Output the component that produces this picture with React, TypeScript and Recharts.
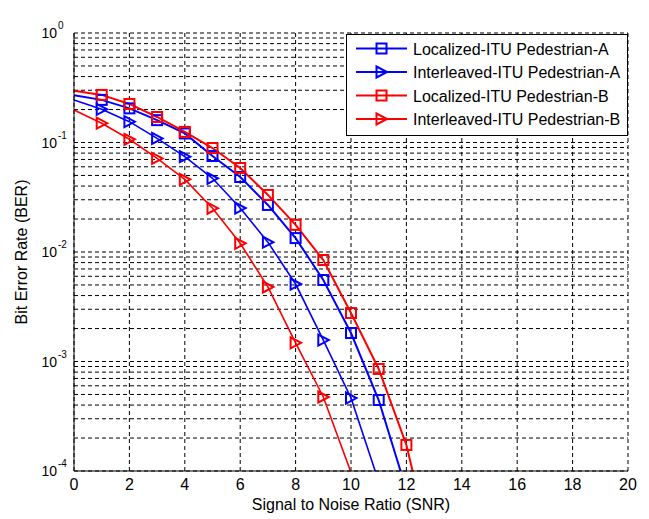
import React from 'react';
import { LineChart, Line, XAxis, YAxis, CartesianGrid, Legend } from 'recharts';

// ---- data ----
const snr = [0, 1, 2, 3, 4, 5, 6, 7, 8, 9, 10, 11, 12, 13];
const localizedA = [0.27, 0.245, 0.205, 0.16, 0.121, 0.0753, 0.0484, 0.0269, 0.0134, 0.00555, 0.00182, 0.000445, 0.000067, null];
const interleavedA = [0.245, 0.201, 0.155, 0.109, 0.0742, 0.0471, 0.0252, 0.0123, 0.0051, 0.00157, 0.000464, 0.00008, null, null];
const localizedB = [0.297, 0.272, 0.225, 0.171, 0.125, 0.089, 0.0585, 0.0332, 0.0177, 0.00845, 0.00277, 0.000855, 0.000173, 0.000015];
const interleavedB = [0.198, 0.15, 0.107, 0.0716, 0.0461, 0.0251, 0.012, 0.00479, 0.00148, 0.000474, 0.000097, null, null, null];

const xTicks = [0, 2, 4, 6, 8, 10, 12, 14, 16, 18, 20];
const yTicks = [
  0.0001, 0.0002, 0.0003, 0.0004, 0.0005, 0.0006, 0.0007, 0.0008, 0.0009,
  0.001, 0.002, 0.003, 0.004, 0.005, 0.006, 0.007, 0.008, 0.009,
  0.01, 0.02, 0.03, 0.04, 0.05, 0.06, 0.07, 0.08, 0.09,
  0.1, 0.2, 0.3, 0.4, 0.5, 0.6, 0.7, 0.8, 0.9,
  1,
];
const yDecadeLabels: Record<string, string> = { '0.0001': '-4', '0.001': '-3', '0.01': '-2', '0.1': '-1', '1': '0' };

const seriesKeys = ['locA', 'intA', 'locB', 'intB'];
const seriesNames = [
  'Localized-ITU Pedestrian-A',
  'Interleaved-ITU Pedestrian-A',
  'Localized-ITU Pedestrian-B',
  'Interleaved-ITU Pedestrian-B',
];
const seriesColors = ['#0000ff', '#0000ff', '#ff0000', '#ff0000'];
const seriesMarkers = ['square', 'triangle', 'square', 'triangle'];
const seriesWidths = [2, 1.6, 2, 1.6];

const data = snr.map((s, i) => ({
  snr: s,
  locA: localizedA[i],
  intA: interleavedA[i],
  locB: localizedB[i],
  intB: interleavedB[i],
}));

const FONT = '"Liberation Sans", Arial, Helvetica, sans-serif';

function Marker({ type, cx, cy, color }: { type: string; cx: number; cy: number; color: string }) {
  if (type === 'square') {
    return <rect x={cx - 5} y={cy - 5} width={10} height={10} fill="none" stroke={color} strokeWidth={2} />;
  }
  return (
    <polygon
      points={`${cx - 5},${cy - 5.5} ${cx - 5},${cy + 5.5} ${cx + 5.5},${cy}`}
      fill="none"
      stroke={color}
      strokeWidth={2}
    />
  );
}

const makeDot = (key: string, type: string, color: string) => (props: any) => {
  const { cx, cy, payload, index } = props;
  const v = payload ? payload[key] : null;
  if (cx == null || cy == null || v == null || payload.snr === 0 || v < 0.0001) {
    return <g key={`d-${key}-${index}`} />;
  }
  return (
    <g key={`d-${key}-${index}`}>
      <Marker type={type} cx={cx} cy={cy} color={color} />
    </g>
  );
};

const XTick = (props: any) => {
  const { x, payload } = props;
  return (
    <text x={x} y={490} textAnchor="middle" fontSize={16} fontFamily={FONT} fill="#000">
      {payload.value}
    </text>
  );
};

const YTick = (props: any) => {
  const { y, payload } = props;
  const exp = yDecadeLabels[String(payload.value)];
  if (exp === undefined) return <g />;
  return (
    <g>
      <text x={57} y={y + 5} textAnchor="end" fontSize={14} fontFamily={FONT} fill="#000">
        10
      </text>
      <text x={58} y={y - 4} textAnchor="start" fontSize={10} fontFamily={FONT} fill="#000">
        {exp}
      </text>
    </g>
  );
};

const LegendBox = () => (
  <div
    style={{
      boxSizing: 'border-box',
      width: 282,
      height: 102,
      border: '1px solid #000',
      background: '#fff',
    }}
  >
    <svg width={280} height={100} style={{ display: 'block' }}>
      {seriesNames.map((name, i) => {
        const cy = 13.5 + i * 23.5;
        return (
          <g key={name}>
            <line x1={9} x2={60} y1={cy} y2={cy} stroke={seriesColors[i]} strokeWidth={2} />
            <Marker type={seriesMarkers[i]} cx={34.5} cy={cy} color={seriesColors[i]} />
            <text x={66} y={cy + 6} fontSize={16} fontFamily={FONT} fill="#000">
              {name}
            </text>
          </g>
        );
      })}
    </svg>
  </div>
);

export default function App() {
  return (
    <div style={{ position: 'absolute', left: 0, top: 0, width: 649, height: 519, background: '#fff' }}>
      <LineChart width={649} height={519} data={data} margin={{ top: 33, right: 21, bottom: 0, left: 0 }}>
        <CartesianGrid stroke="#000" strokeDasharray="4 3" strokeWidth={1} />
        <XAxis
          dataKey="snr"
          type="number"
          domain={[0, 20]}
          ticks={xTicks}
          interval={0}
          height={48}
          tickLine={false}
          axisLine={{ stroke: '#000', strokeWidth: 1 }}
          tick={<XTick />}
          label={{
            content: () => (
              <text x={351} y={510} textAnchor="middle" fontSize={16} fontFamily={FONT} fill="#000">
                Signal to Noise Ratio (SNR)
              </text>
            ),
          }}
        />
        <XAxis
          xAxisId="top"
          orientation="top"
          type="number"
          domain={[0, 20]}
          ticks={xTicks}
          height={0}
          tick={false}
          tickLine={false}
          axisLine={{ stroke: '#000', strokeWidth: 1 }}
          label={{
            content: () => (
              <text x={351} y={19.5} textAnchor="middle" fontSize={16} fontFamily={FONT} fill="#000">
                SCFDMA-FFT-ITU Channel-Pedestrian (A &amp; B)
              </text>
            ),
          }}
        />
        <YAxis
          type="number"
          scale="log"
          domain={[0.0001, 1]}
          allowDataOverflow
          ticks={yTicks}
          interval={0}
          width={74}
          tickLine={false}
          axisLine={{ stroke: '#000', strokeWidth: 1 }}
          tick={<YTick />}
          label={{
            content: () => (
              <text
                x={27}
                y={252}
                textAnchor="middle"
                fontSize={16}
                fontFamily={FONT}
                fill="#000"
                transform="rotate(-90, 27, 252)"
              >
                Bit Error Rate (BER)
              </text>
            ),
          }}
        />
        <YAxis
          yAxisId="right"
          orientation="right"
          type="number"
          scale="log"
          domain={[0.0001, 1]}
          allowDataOverflow
          width={0}
          tick={false}
          tickLine={false}
          axisLine={{ stroke: '#000', strokeWidth: 1 }}
        />
        <Legend
          layout="vertical"
          verticalAlign="middle"
          align="center"
          wrapperStyle={{ left: 346, top: 34, width: 282, height: 102 }}
          content={() => <LegendBox />}
        />
        {seriesKeys.map((k, i) => (
          <Line
            key={k}
            type="linear"
            dataKey={k}
            name={seriesNames[i]}
            stroke={seriesColors[i]}
            strokeWidth={seriesWidths[i]}
            dot={makeDot(k, seriesMarkers[i], seriesColors[i])}
            activeDot={false}
            isAnimationActive={false}
          />
        ))}
      </LineChart>
    </div>
  );
}
